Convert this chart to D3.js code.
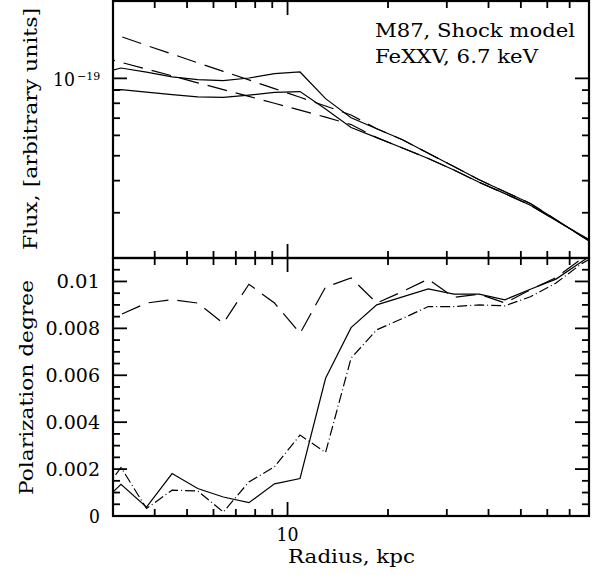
<!DOCTYPE html>
<html>
<head>
<meta charset="utf-8">
<script src="https://d3js.org/d3.v7.min.js"></script>
<style>
  body { margin: 0; background: #fff; }
  svg { display: block; }
  text { font-family: "DejaVu Serif", serif; fill: #000; }
</style>
</head>
<body>
<svg width="601" height="575"></svg>
<script>
// radius grid (kpc), shared by all curves
var radius = [2.66, 3.17, 3.78, 4.51, 5.38, 6.42, 7.66, 9.14, 10.9, 13.0, 15.5,
              18.5, 22.1, 26.4, 31.5, 37.5, 44.8, 53.4, 63.7, 76.0, 90.7];

// flux in units of 1e-19
var fluxSolidHigh = [1.036, 1.097, 1.057, 1.013, 0.989, 0.980, 1.003, 1.043, 1.059, 0.834, 0.703,
                     0.637, 0.577, 0.511, 0.454, 0.403, 0.362, 0.326, 0.282, 0.243, 0.211];
var fluxSolidLow  = [0.896, 0.904, 0.884, 0.865, 0.847, 0.844, 0.861, 0.882, 0.888, 0.760, 0.644,
                     0.588, 0.536, 0.488, 0.440, 0.394, 0.356, 0.321, 0.280, 0.245, 0.214];
var fluxDashHigh  = [1.603, 1.455, 1.344, 1.243, 1.150, 1.065, 0.986, 0.912, 0.844, 0.781, 0.720,
                     0.637, 0.577, 0.511, 0.454, 0.403, 0.362, 0.326, 0.282, 0.243, 0.211];
var fluxDashLow   = [1.229, 1.155, 1.087, 1.023, 0.961, 0.904, 0.851, 0.800, 0.752, 0.707, 0.661,
                     0.588, 0.536, 0.488, 0.440, 0.394, 0.356, 0.321, 0.280, 0.245, 0.214];

// polarization degree
var polSolid   = [0.00031, 0.00135, 0.00038, 0.00181, 0.00117, 0.00081, 0.00057, 0.00137, 0.0016, 0.00587, 0.00803,
                  0.0090, 0.00934, 0.00968, 0.00946, 0.00946, 0.00922, 0.00967, 0.0101, 0.01084, 0.01157];
var polDash    = [0.0081, 0.00859, 0.00908, 0.00922, 0.00908, 0.00822, 0.00988, 0.00908, 0.00779, 0.00976, 0.01015,
                  0.00908, 0.00957, 0.0101, 0.00932, 0.00946, 0.00908, 0.00965, 0.01016, 0.01097, 0.0116];
var polDashDot = [0.00058, 0.00207, 0.00032, 0.0011, 0.00107, 0.00017, 0.00145, 0.0021, 0.00345, 0.00271, 0.00673,
                  0.00794, 0.00842, 0.00893, 0.00893, 0.0090, 0.00896, 0.00935, 0.00993, 0.01076, 0.01135];

var xMajor = [10];
var xMinor = [3, 4, 5, 6, 7, 8, 9, 20, 30, 40, 50, 60, 70, 80];
var fluxMajor = [1];
var fluxMinor = [0.2, 0.3, 0.4, 0.5, 0.6, 0.7, 0.8, 0.9, 2];
var polMajor = [0, 0.002, 0.004, 0.006, 0.008, 0.01];
var polLabels = ["0", "0.002", "0.004", "0.006", "0.008", "0.01"];
var polMinor = [0.0005, 0.001, 0.0015, 0.0025, 0.003, 0.0035, 0.0045, 0.005, 0.0055,
                0.0065, 0.007, 0.0075, 0.0085, 0.009, 0.0095, 0.0105, 0.011];

var svg = d3.select("svg");
var pLeft = 113, pRight = 589, pTop = 1, pMid = 258, pBottom = 516;
var majLen = 14, minLen = 7;

var x = d3.scaleLog().domain([3, 80]).range([pLeft, pRight]);
var yFlux = d3.scaleLog().domain([0.2, 2]).range([pMid, pTop]);
var yPol = d3.scaleLinear().domain([0, 0.011]).range([pBottom, pMid]);

var defs = svg.append("defs");
defs.append("clipPath").attr("id", "clipTop").append("rect")
    .attr("x", pLeft).attr("y", pTop).attr("width", pRight - pLeft).attr("height", pMid - pTop);
defs.append("clipPath").attr("id", "clipBot").append("rect")
    .attr("x", pLeft).attr("y", pMid).attr("width", pRight - pLeft).attr("height", pBottom - pMid);

function drawLine(g, yScale, values, dash) {
  var line = d3.line()
      .x(function(d, i) { return x(radius[i]); })
      .y(function(d) { return yScale(d); });
  g.append("path")
      .datum(values)
      .attr("d", line)
      .attr("fill", "none")
      .attr("stroke", "#000")
      .attr("stroke-width", 1.2)
      .attr("stroke-dasharray", dash);
}

var gTop = svg.append("g").attr("clip-path", "url(#clipTop)");
drawLine(gTop, yFlux, fluxSolidHigh, null);
drawLine(gTop, yFlux, fluxSolidLow, null);
drawLine(gTop, yFlux, fluxDashHigh, "20,9");
drawLine(gTop, yFlux, fluxDashLow, "20,9");

var gBot = svg.append("g").attr("clip-path", "url(#clipBot)");
drawLine(gBot, yPol, polSolid, null);
drawLine(gBot, yPol, polDash, "20,9");
drawLine(gBot, yPol, polDashDot, "10,3,1,3");

// ticks
var ticks = svg.append("g").attr("stroke", "#000").attr("stroke-width", 1.8);
function xTicks(vals, len) {
  vals.forEach(function(v) {
    var px = x(v);
    [[pTop, 1], [pMid, -1], [pMid, 1], [pBottom, -1]].forEach(function(e) {
      ticks.append("line").attr("x1", px).attr("x2", px)
          .attr("y1", e[0]).attr("y2", e[0] + e[1] * len);
    });
  });
}
xTicks(xMajor, majLen);
xTicks(xMinor, minLen);

function yTicks(scale, vals, len) {
  vals.forEach(function(v) {
    var py = scale(v);
    ticks.append("line").attr("x1", pLeft).attr("x2", pLeft + len).attr("y1", py).attr("y2", py);
    ticks.append("line").attr("x1", pRight).attr("x2", pRight - len).attr("y1", py).attr("y2", py);
  });
}
yTicks(yFlux, fluxMajor, majLen);
yTicks(yFlux, fluxMinor, minLen);
yTicks(yPol, polMajor, majLen);
yTicks(yPol, polMinor, minLen);

// frames
svg.append("rect").attr("x", pLeft).attr("y", pTop).attr("width", pRight - pLeft).attr("height", pMid - pTop)
    .attr("fill", "none").attr("stroke", "#000").attr("stroke-width", 2.2);
svg.append("rect").attr("x", pLeft).attr("y", pMid).attr("width", pRight - pLeft).attr("height", pBottom - pMid)
    .attr("fill", "none").attr("stroke", "#000").attr("stroke-width", 2.2);

// labels
var fs = 19;
function label(xp, yp, str, len, anchor, transform) {
  var t = svg.append("text").style("font-size", fs + "px").text(str);
  if (transform) t.attr("transform", transform);
  else t.attr("x", xp).attr("y", yp);
  if (anchor) t.attr("text-anchor", anchor);
  if (len) t.attr("textLength", len).attr("lengthAdjust", "spacingAndGlyphs");
  return t;
}

label(75, yFlux(1) + 8, "10", 22, "end");
svg.append("text").attr("x", 77).attr("y", yFlux(1) + 2)
    .style("font-size", "11px").text("\u221219");

polMajor.forEach(function(v, i) {
  label(100, yPol(v) + 7, polLabels[i], polLabels[i].length * 10.9, "end");
});

label(x(10), 541, "10", 22, "middle");
label(0, 0, "Radius, kpc", 127, null, "translate(288,563)");

label(0, 0, "Flux, [arbitrary units]", 242, null, "translate(37,250) rotate(-90)");
label(0, 0, "Polarization degree", 215, null, "translate(33,495) rotate(-90)");

label(375, 37, "M87, Shock model", 200);
label(375, 63, "FeXXV, 6.7 keV", 163);
</script>
</body>
</html>
